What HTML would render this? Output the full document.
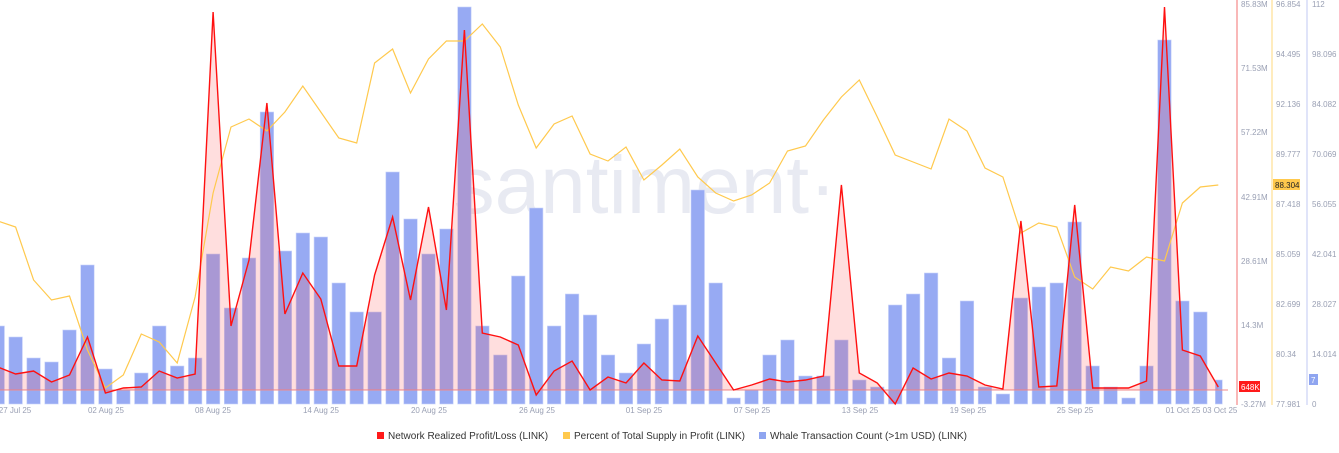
<!DOCTYPE html>
<html><head><meta charset="utf-8"><style>
html,body{margin:0;padding:0;background:#fff;width:1339px;height:453px;overflow:hidden;font-family:"Liberation Sans",sans-serif}
</style></head><body>
<svg id="s" width="1339" height="453" xmlns="http://www.w3.org/2000/svg" style="position:absolute;left:0;top:0">
<text x="645" y="213" font-size="82" fill="#e8eaf2" text-anchor="middle" font-family="Liberation Sans,sans-serif">santiment·</text>
<g id="bars"></g>
<line x1="0" y1="390" x2="1228" y2="390" stroke="#f08a8a" stroke-width="1"/>
<path id="area" fill="rgba(255,70,70,0.18)"/>
<polyline id="yel" fill="none" stroke="#ffc94d" stroke-width="1.2"/>
<polyline id="red" fill="none" stroke="#ff1010" stroke-width="1.4"/>
<line x1="1237" y1="0" x2="1237" y2="405" stroke="#f7a0a0" stroke-width="1.5"/>
<line x1="1272" y1="0" x2="1272" y2="405" stroke="#ffe6a8" stroke-width="1.5"/>
<line x1="1307" y1="0" x2="1307" y2="405" stroke="#d6dcf7" stroke-width="1.5"/>
<g font-size="8" fill="#9aa0b4">
<text x="1241" y="7">85.83M</text><text x="1241" y="71">71.53M</text><text x="1241" y="135">57.22M</text><text x="1241" y="200">42.91M</text><text x="1241" y="264">28.61M</text><text x="1241" y="328">14.3M</text><text x="1241" y="407">-3.27M</text>
<text x="1276" y="7">96.854</text><text x="1276" y="57">94.495</text><text x="1276" y="107">92.136</text><text x="1276" y="157">89.777</text><text x="1276" y="207">87.418</text><text x="1276" y="257">85.059</text><text x="1276" y="307">82.699</text><text x="1276" y="357">80.34</text><text x="1276" y="407">77.981</text>
<text x="1312" y="7">112</text><text x="1312" y="57">98.096</text><text x="1312" y="107">84.082</text><text x="1312" y="157">70.069</text><text x="1312" y="207">56.055</text><text x="1312" y="257">42.041</text><text x="1312" y="307">28.027</text><text x="1312" y="357">14.014</text><text x="1312" y="407">0</text>
</g>
<rect x="1273" y="179" width="27" height="11" fill="#ffc94d"/><text x="1275" y="188" font-size="8" fill="#222">88.304</text>
<rect x="1239" y="381" width="21" height="11" fill="#ff1a1a"/><text x="1241" y="390" font-size="8" fill="#fff">648K</text>
<rect x="1309" y="374" width="9" height="11" fill="#8fa5f0"/><text x="1311" y="383" font-size="8" fill="#fff">7</text>
<g font-size="8" fill="#9aa0b4" text-anchor="middle">
<text x="15" y="413">27 Jul 25</text><text x="106" y="413">02 Aug 25</text><text x="213" y="413">08 Aug 25</text><text x="321" y="413">14 Aug 25</text><text x="429" y="413">20 Aug 25</text><text x="537" y="413">26 Aug 25</text><text x="644" y="413">01 Sep 25</text><text x="752" y="413">07 Sep 25</text><text x="860" y="413">13 Sep 25</text><text x="968" y="413">19 Sep 25</text><text x="1075" y="413">25 Sep 25</text><text x="1183" y="413">01 Oct 25</text><text x="1220" y="413">03 Oct 25</text>
</g>
<g font-size="10" fill="#333">
<rect x="377" y="432" width="7" height="7" fill="#ff1a1a"/><text x="388" y="439">Network Realized Profit/Loss (LINK)</text>
<rect x="563" y="432" width="7" height="7" fill="#ffc94d"/><text x="574" y="439">Percent of Total Supply in Profit (LINK)</text>
<rect x="759" y="432" width="7" height="7" fill="#8fa5f0"/><text x="770" y="439">Whale Transaction Count (&gt;1m USD) (LINK)</text>
</g>
</svg>
<script>
var B=[326,337,358,362,330,265,369,390,373,326,366,358,254,308,258,112,251,233,237,283,312,312,172,219,254,229,7,326,355,276,208,326,294,315,355,373,344,319,305,190,283,398,390,355,340,376,376,340,380,387,305,294,273,358,301,387,394,298,287,283,222,366,387,398,366,40,301,312,380];
var R=[367,374,371,382,375,337,393,388,387,371,378,374,12,326,260,103,314,273,299,366,366,275,217,300,207,310,30,333,337,345,395,371,361,390,377,383,363,380,381,336,363,390,385,379,382,380,376,185,373,383,404,368,379,373,376,385,389,221,387,386,205,388,388,388,381,7,350,356,387];
var Y=[221,227,280,300,296,350,388,375,334,342,363,297,193,127,119,131,112,86,112,138,143,63,49,93,59,41,41,24,47,105,148,124,116,154,161,147,180,165,149,177,193,201,195,183,151,146,120,97,80,117,155,162,169,119,131,168,177,233,223,227,277,289,267,271,257,261,203,187,185];
var ns="http://www.w3.org/2000/svg",g=document.getElementById("bars");
function X(i){return -2.3+17.95*i;}
for(var i=0;i<B.length;i++){var r=document.createElementNS(ns,"rect");var w=(i==B.length-1)?7:13.5;var x=(i==B.length-1)?X(i)-3:X(i)-6.75;r.setAttribute("x",x);r.setAttribute("y",B[i]);r.setAttribute("width",w);r.setAttribute("height",404-B[i]);r.setAttribute("fill","#97aaf3");r.setAttribute("stroke","#c9d3fa");r.setAttribute("stroke-width","0.6");g.appendChild(r);}
var rp=[],yp=[];for(var i=0;i<R.length;i++){rp.push(X(i).toFixed(1)+","+R[i]);yp.push(X(i).toFixed(1)+","+Y[i]);}
document.getElementById("red").setAttribute("points",rp.join(" "));
document.getElementById("yel").setAttribute("points",yp.join(" "));
document.getElementById("area").setAttribute("d","M"+X(0)+",390 L"+rp.join(" L")+" L"+X(R.length-1)+",390Z");
</script>
</body></html>
